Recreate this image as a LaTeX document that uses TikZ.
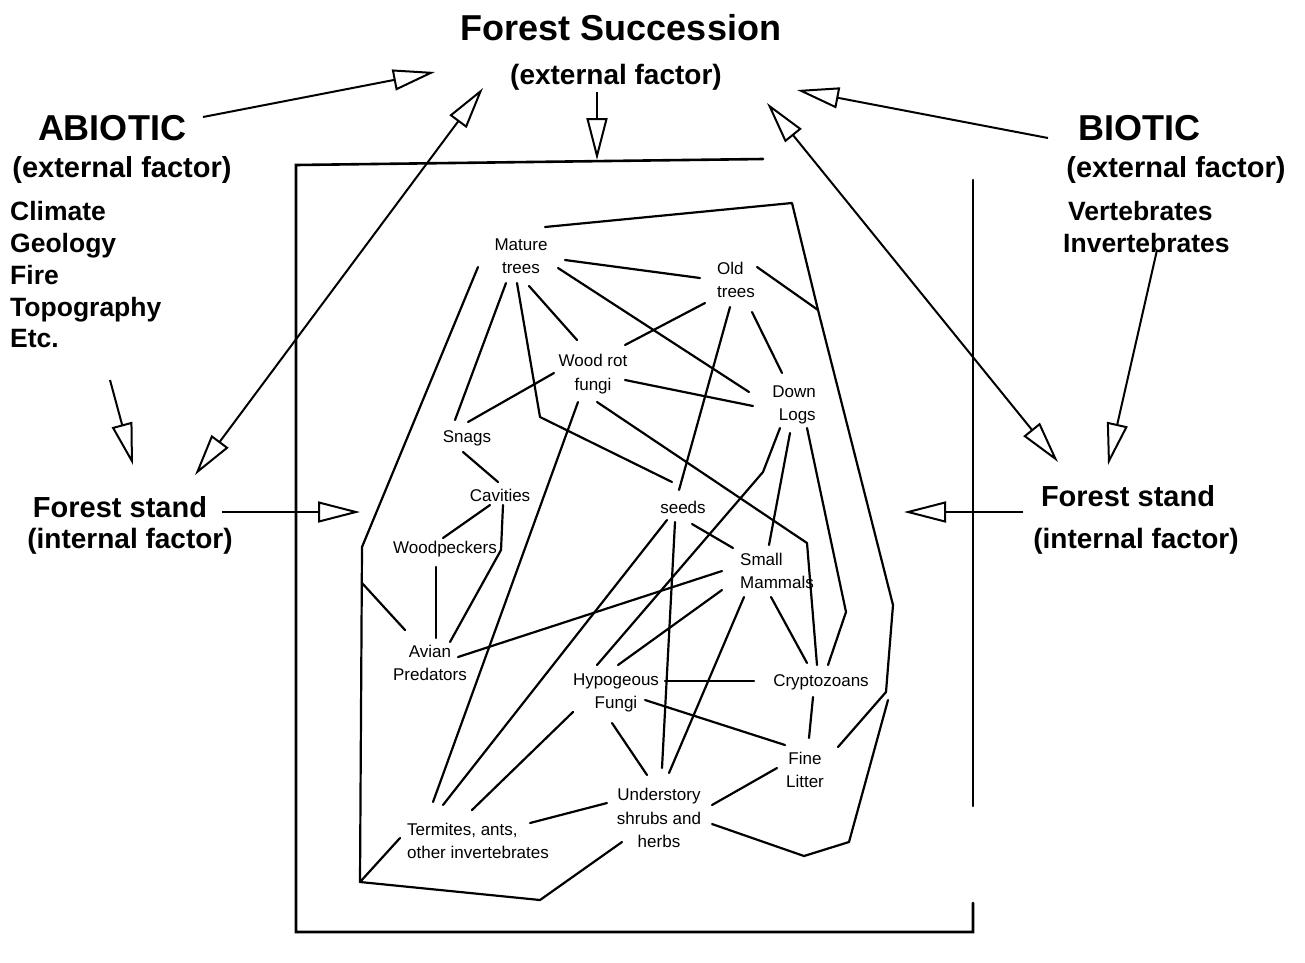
\documentclass[tikz,border=0pt]{standalone}
\usepackage{fontspec}
\setmainfont{Liberation Sans}
\usetikzlibrary{arrows.meta,calc}
\begin{document}
\begin{tikzpicture}[x=1pt,y=-1pt,
  lbl/.style={font=\fontsize{17}{23.5}\selectfont, inner sep=0pt, align=center},
  big/.style={font=\fontsize{36}{40}\selectfont\bfseries, inner sep=0pt, anchor=base},
  mid/.style={font=\fontsize{28}{32}\selectfont\bfseries, inner sep=0pt, anchor=base},
  lst/.style={font=\fontsize{26.5}{30}\selectfont\bfseries, inner sep=0pt, anchor=base west},
  net/.style={line width=2.2pt, line cap=round, line join=round},
  frame/.style={line width=2.6pt, line cap=round, line join=miter},
  opentip/.tip={Triangle[open,length=42pt,width=21pt,line width=2pt]},
  bigarrow/.style={line width=2pt, -opentip},
  dblarrow/.style={line width=2pt, opentip-opentip},
]
\useasboundingbox (0,0) rectangle (1305,962);

% ---------- outer texts ----------
\node[big] (succ) at (621,40) {Forest Succession};
\node[mid] (succx) at (616,84) {(external factor)};
\node[big] (abio) at (112,140) {ABIOTIC};
\node[mid, font=\fontsize{29}{32}\selectfont\bfseries] (abx) at (122,177) {(external factor)};
\node[lst] (l1) at (10,220) {Climate};
\node[lst] (l2) at (10,252) {Geology};
\node[lst] (l3) at (10,284) {Fire};
\node[lst] (l4) at (10,316) {Topography};
\node[lst] (l5) at (10,347) {Etc.};
\node[mid, font=\fontsize{29}{32}\selectfont\bfseries] (fsl) at (120,517) {Forest stand};
\node[mid] (fslx) at (130,548) {(internal factor)};
\node[big] (bio) at (1139,140) {BIOTIC};
\node[mid, font=\fontsize{29}{32}\selectfont\bfseries] (bix) at (1176,177) {(external factor)};
\node[lst] (v1) at (1068,220) {Vertebrates};
\node[lst] (v2) at (1063,252) {Invertebrates};
\node[mid, font=\fontsize{29}{32}\selectfont\bfseries] (fsr) at (1128,506) {Forest stand};
\node[mid] (fsrx) at (1136,548) {(internal factor)};

% ---------- frame ----------
\draw[frame] (763,159) -- (296,165) -- (296,932) -- (973,932) -- (973,903);
\draw[frame] (973,806) -- (973,180);

% ---------- big arrows ----------
\coordinate (a1s) at (203,117); \coordinate (a1e) at (435,72);
\coordinate (a2s) at (1048,138); \coordinate (a2e) at (797,90);
\coordinate (a3s) at (597,92);  \coordinate (a3e) at (597,160);
\coordinate (a4s) at (195,475); \coordinate (a4e) at (483,88);
\coordinate (a5s) at (767,103); \coordinate (a5e) at (1058,462);
\coordinate (a6s) at (110,380); \coordinate (a6e) at (133,465);
\coordinate (a7s) at (1157,250); \coordinate (a7e) at (1108,465);
\coordinate (a8s) at (222,512); \coordinate (a8e) at (360,512);
\coordinate (a9s) at (1023,512); \coordinate (a9e) at (904,512);
\draw[bigarrow] (a1s) -- (a1e);
\draw[bigarrow] (a2s) -- (a2e);
\draw[bigarrow] (a3s) -- (a3e);
\draw[dblarrow] (a4s) -- (a4e);
\draw[dblarrow] (a5s) -- (a5e);
\draw[bigarrow] (a6s) -- (a6e);
\draw[bigarrow] (a7s) -- (a7e);
\draw[bigarrow] (a8s) -- (a8e);
\draw[bigarrow] (a9s) -- (a9e);

% ---------- network nodes ----------
\node[lbl] (mat) at (521,256) {Mature\\trees};
\node[lbl, align=left] (old) at (736,280) {Old\\trees};
\node[lbl] (wood) at (593,374) {Wood rot\\fungi};
\node[lbl, align=right] (logs) at (794,405) {Down\\Logs};
\node[lbl] (snag) at (467,438) {Snags};
\node[lbl] (cav) at (500,495) {Cavities};
\node[lbl] (seed) at (683,507) {seeds};
\node[lbl] (wpk) at (445,549) {Woodpeckers};
\node[lbl, align=left] (mam) at (777,571) {Small\\Mammals};
\node[lbl] (avi) at (430,663) {Avian\\Predators};
\node[lbl] (hyp) at (616,693) {Hypogeous\\Fungi};
\node[lbl] (cry) at (821,682) {Cryptozoans};
\node[lbl] (fin) at (805,770) {Fine\\Litter};
\node[lbl] (und) at (659,818) {Understory\\shrubs and\\herbs};
\node[lbl, align=left] (ter) at (478,841) {Termites, ants,\\other invertebrates};

% ---------- bend points ----------
\coordinate (bms) at (540,417);
\coordinate (bwc) at (807,543);
\coordinate (bca) at (501,550);
\coordinate (blh) at (763,472);
\coordinate (blc) at (846,612);
\coordinate (r1) at (792,203);
\coordinate (r2) at (818,310);
\coordinate (r3) at (893,605);
\coordinate (r4) at (886,692);
\coordinate (s1) at (804,856);
\coordinate (s2) at (849,842);
\coordinate (s3) at (888,700);
\coordinate (p1) at (362,547);
\coordinate (p2) at (362,583);
\coordinate (p3) at (360,882);
\coordinate (p4) at (540,900);

% ---------- network connectors ----------
\draw[net] ($(mat)+(-15,27)$) -- ($(snag)+(-12,-18)$);
\draw[net] ($(mat)+(-4,27)$) -- (bms) -- ($(seed)+(-11,-25)$);
\draw[net] ($(mat)+(8,30)$) -- ($(wood)+(-16,-34)$);
\draw[net] ($(mat)+(37,12)$) -- ($(logs)+(-45,-13)$);
\draw[net] ($(mat)+(44,4)$) -- ($(old)+(-36,-2)$);
\draw[net] ($(old)+(-31,23)$) -- ($(wood)+(32,-29)$);
\draw[net] ($(old)+(-6,27)$) -- ($(seed)+(-4,-17)$);
\draw[net] ($(old)+(16,32)$) -- ($(logs)+(-12,-32)$);
\draw[net] ($(old)+(21,-13)$) -- (r2);
\draw[net] ($(wood)+(-39,-1)$) -- ($(snag)+(1,-16)$);
\draw[net] ($(wood)+(32,6)$) -- ($(logs)+(-41,1)$);
\draw[net] ($(wood)+(-15,28)$) -- ($(ter)+(-45,-39)$);
\draw[net] ($(wood)+(4,28)$) -- (bwc) -- ($(cry)+(-4,-17)$);
\draw[net] ($(snag)+(-4,14)$) -- ($(cav)+(-2,-13)$);
\draw[net] ($(cav)+(-10,10)$) -- ($(wpk)+(-2,-11)$);
\draw[net] ($(cav)+(3,10)$) -- (bca) -- ($(avi)+(20,-21)$);
\draw[net] ($(wpk)+(-9,18)$) -- ($(avi)+(6,-25)$);
\draw[net] ($(avi)+(28,-6)$) -- ($(mam)+(-55,0)$);
\draw[net] ($(seed)+(-16,13)$) -- ($(ter)+(-35,-36)$);
\draw[net] ($(seed)+(-8,15)$) -- ($(und)+(3,-50)$);
\draw[net] ($(seed)+(9,17)$) -- ($(mam)+(-44,-23)$);
\draw[net] ($(logs)+(-14,23)$) -- (blh) -- ($(hyp)+(-19,-28)$);
\draw[net] ($(logs)+(-4,28)$) -- ($(mam)+(-8,-26)$);
\draw[net] ($(logs)+(13,23)$) -- (blc) -- ($(cry)+(7,-17)$);
\draw[net] ($(mam)+(-55,19)$) -- ($(hyp)+(2,-28)$);
\draw[net] ($(mam)+(-33,26)$) -- ($(und)+(10,-45)$);
\draw[net] ($(mam)+(-6,26)$) -- ($(cry)+(-14,-19)$);
\draw[net] ($(hyp)+(49,-12)$) -- ($(cry)+(-67,-1)$);
\draw[net] ($(hyp)+(29,7)$) -- ($(fin)+(-20,-25)$);
\draw[net] ($(hyp)+(-4,30)$) -- ($(und)+(-12,-43)$);
\draw[net] ($(hyp)+(-43,19)$) -- ($(ter)+(-6,-31)$);
\draw[net] ($(cry)+(-8,15)$) -- ($(fin)+(4,-32)$);
\draw[net] ($(fin)+(-28,-2)$) -- ($(und)+(53,-13)$);
\draw[net] ($(und)+(-52,-15)$) -- ($(ter)+(52,-18)$);
\draw[net] ($(mat)+(24,-29)$) -- (r1) -- (r2) -- (r3) -- (r4) -- ($(fin)+(33,-23)$);
\draw[net] ($(und)+(53,6)$) -- (s1) -- (s2) -- (s3);
\draw[net] ($(mat)+(-43,11)$) -- (p1) -- (p3) -- (p4) -- ($(und)+(-37,24)$);
\draw[net] (p2) -- ($(avi)+(-25,-33)$);
\draw[net] (p3) -- ($(ter)+(-78,-3)$);
\end{tikzpicture}
\end{document}
